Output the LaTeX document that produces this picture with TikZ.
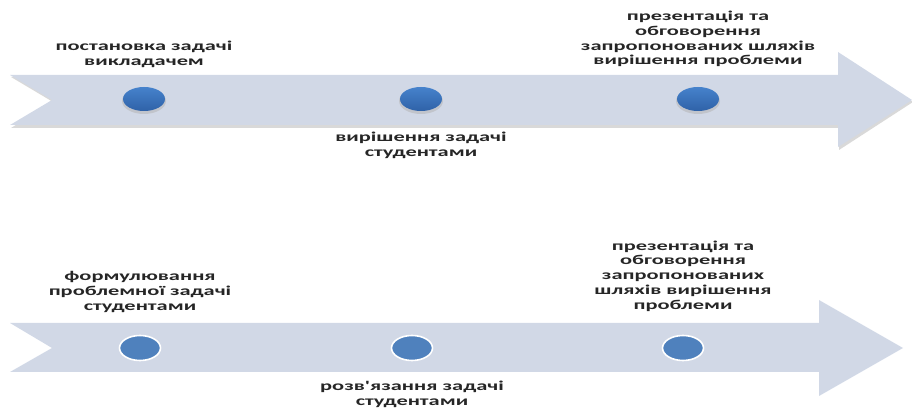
\documentclass[tikz,border=0pt]{standalone}
\usepackage{fontspec}
\newfontfamily\lblfont{Carlito}[FakeStretch=1.66]
\usetikzlibrary{shapes.geometric}
\definecolor{arrowfill}{HTML}{D1D8E6}
\definecolor{dotA}{HTML}{4682CC}
\definecolor{dotB}{HTML}{2F62A8}
\definecolor{dotC}{HTML}{4F81BD}
\definecolor{txt}{HTML}{262626}
\tikzset{
  band/.style={fill=arrowfill, draw=none},
  dottop/.style={ellipse, minimum width=42pt, minimum height=24pt, inner sep=0pt, top color=dotA, bottom color=dotB, draw=none},
  dotbot/.style={ellipse, minimum width=41pt, minimum height=25pt, inner sep=0pt, fill=dotC, draw=white, line width=1.6pt},
  lbl/.style={align=center, text=txt, font=\lblfont\fontsize{13.5}{14.8}\selectfont\bfseries, inner sep=0pt},
}
\begin{document}
\begin{tikzpicture}[x=1pt,y=1pt]
\useasboundingbox (0,0) rectangle (912,409);
% top arrow with soft shadow
\fill[black!15] (11,332) -- (839,332) -- (839,355) -- (913,307) -- (839,259) -- (839,281) -- (11,281) -- (53,307) -- cycle;
\fill[band] (10,334) -- (838,334) -- (838,357) -- (912,309) -- (838,262) -- (838,284) -- (10,284) -- (52,309) -- cycle;
% bottom arrow
\fill[band] (10,86) -- (819,86) -- (819,109) -- (903,61) -- (819,13) -- (819,37) -- (10,37) -- (52,61) -- cycle;
% top dots
\foreach \n/\x in {t1/144, t2/421, t3/698} {
  \fill[black!30, opacity=0.5] (\x,308) ellipse (22pt and 13pt);
  \node[dottop] (\n) at (\x,310) {};
}
% bottom dots
\node[dotbot] (b1) at (140,61) {};
\node[dotbot] (b2) at (412,61) {};
\node[dotbot] (b3) at (683,61) {};
% labels
\node[lbl] (l1) at (144,354.5) {постановка задачі\\викладачем};
\node[lbl] (l2) at (421,263.5) {вирішення задачі\\студентами};
\node[lbl] (l3) at (698,370) {презентація та\\обговорення\\запропонованих шляхів\\вирішення проблеми};
\node[lbl] (l4) at (140,117) {формулювання\\проблемної задачі\\студентами};
\node[lbl] (l5) at (412,15) {розв'язання задачі\\студентами};
\node[lbl] (l6) at (683,133) {презентація та\\обговорення\\запропонованих\\шляхів вирішення\\проблеми};
\end{tikzpicture}
\end{document}
